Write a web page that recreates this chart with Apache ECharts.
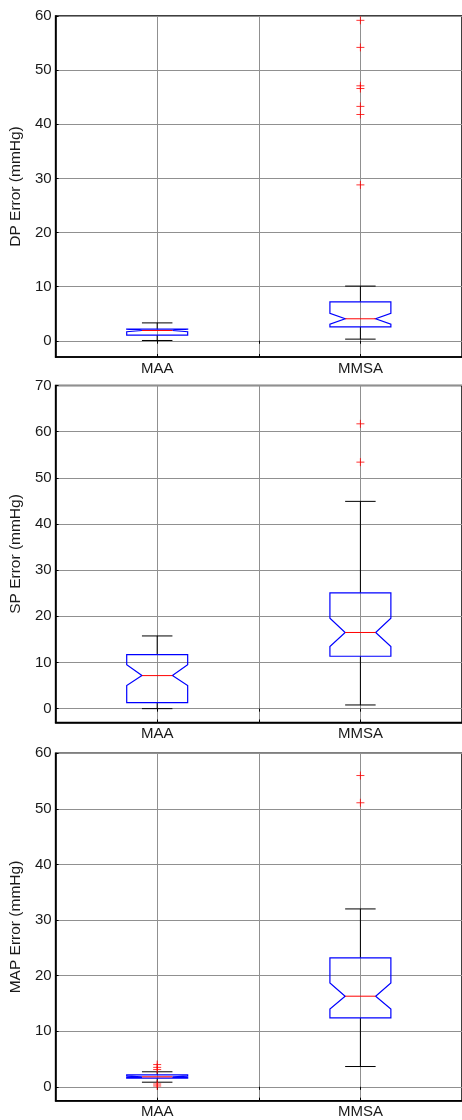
<!DOCTYPE html>
<html><head><meta charset="utf-8">
<script src="https://cdn.jsdelivr.net/npm/echarts@6/dist/echarts.min.js"></script>
<style>html,body{margin:0;padding:0;background:#fff}#c{width:462px;height:1120px}</style>
</head><body><div id="c"></div>
<script>
// ---------- data ----------
const categories = ['MAA', 'MMSA'];
const categoryPositions = [1, 2];
// each row: [lower whisker, Q1, notch low, median, notch high, Q3, upper whisker]
const dpStats  = [[0.05, 1.05, 1.66, 1.9, 2.14, 2.16, 3.3], [0.3, 2.58, 3.06, 4.06, 5.06, 7.2, 10.1]];
const spStats  = [[0.0, 1.3, 4.99, 7.16, 9.5, 11.7, 15.75], [0.8, 11.35, 13.45, 16.5, 19.6, 25.08, 44.9]];
const mapStats = [[0.83, 1.55, 1.67, 1.8, 1.93, 2.15, 2.7], [3.65, 12.4, 14.0, 16.3, 18.7, 23.2, 32.0]];
const dpOutliersMAA  = [];
const dpOutliersMMSA = [59.2, 54.2, 47.1, 46.6, 43.3, 41.8, 28.8];
const spOutliersMAA  = [];
const spOutliersMMSA = [61.7, 53.4];
const mapOutliersMAA  = [4.0, 3.5, 3.1, 0.5, 0.15];
const mapOutliersMMSA = [56.0, 51.1];
const dpTicks  = [0, 10, 20, 30, 40, 50, 60];
const spTicks  = [0, 10, 20, 30, 40, 50, 60, 70];
const mapTicks = [0, 10, 20, 30, 40, 50, 60];
const xTickValues = [1, 1.5, 2];
const yTitles = ['DP Error (mmHg)', 'SP Error (mmHg)', 'MAP Error (mmHg)'];

// ---------- layout ----------
const panels = [
  { top: 16,    height: 341,   min: -3,   max: 60, ticks: dpTicks,  stats: dpStats,  out: [dpOutliersMAA, dpOutliersMMSA] },
  { top: 385.5, height: 337,   min: -3,   max: 70, ticks: spTicks,  stats: spStats,  out: [spOutliersMAA, spOutliersMMSA] },
  { top: 753.3, height: 347.4, min: -2.5, max: 60, ticks: mapTicks, stats: mapStats, out: [mapOutliersMAA, mapOutliersMMSA] }
];
const FONT = "'Liberation Sans', Arial, sans-serif";
const TXT = '#1a1a1a';
const GRIDC = '#909090';

function renderBox(params, api) {
  const x = api.value(0);
  const wLo = api.value(1), q1 = api.value(2), nLo = api.value(3), med = api.value(4),
        nHi = api.value(5), q3 = api.value(6), wHi = api.value(7);
  const hw = 0.15, qw = 0.075;
  const P = (dx, y) => api.coord([x + dx, y]);
  const line = (a, b, color) => ({ type: 'line', shape: { x1: a[0], y1: a[1], x2: b[0], y2: b[1] },
    style: { stroke: color, lineWidth: 1 } });
  const pts = [P(-hw, q1), P(hw, q1), P(hw, nLo), P(qw, med), P(hw, nHi), P(hw, q3),
               P(-hw, q3), P(-hw, nHi), P(-qw, med), P(-hw, nLo)];
  return { type: 'group', children: [
    line(P(0, q3), P(0, wHi), '#000'),
    line(P(0, q1), P(0, wLo), '#000'),
    line(P(-qw, wHi), P(qw, wHi), '#000'),
    line(P(-qw, wLo), P(qw, wLo), '#000'),
    { type: 'polygon', shape: { points: pts }, style: { fill: 'none', stroke: '#0000ff', lineWidth: 1.2 } },
    line(P(-qw, med), P(qw, med), '#ff0000')
  ]};
}

const option = { animation: false, backgroundColor: '#fff', grid: [], xAxis: [], yAxis: [], series: [] };
panels.forEach((p, i) => {
  option.grid.push({ left: 54, width: 411, top: p.top, height: p.height, show: true,
    borderColor: '#000', borderWidth: 1.5, backgroundColor: 'transparent' });
  option.xAxis.push({
    type: 'value', gridIndex: i, min: 0.5, max: 2.5, position: 'bottom',
    axisLine: { show: true, onZero: false, lineStyle: { color: '#000', width: 1.5 } },
    axisTick: { show: true, inside: true, length: 3, customValues: xTickValues, lineStyle: { color: '#000' } },
    axisLabel: { show: true, customValues: categoryPositions, margin: 4,
      formatter: v => categories[categoryPositions.indexOf(v)] || '',
      fontFamily: FONT, fontSize: 15, color: TXT },
    splitLine: { show: true, lineStyle: { color: GRIDC, width: 1 } }
  });
  option.xAxis.push({
    type: 'value', gridIndex: i, min: 0.5, max: 2.5, position: 'top',
    axisLine: { show: false },
    axisTick: { show: true, inside: true, length: 3, customValues: xTickValues, lineStyle: { color: '#000' } },
    axisLabel: { show: false }, splitLine: { show: false }
  });
  option.yAxis.push({
    type: 'value', gridIndex: i, min: p.min, max: p.max,
    name: yTitles[i], nameLocation: 'middle', nameGap: 23, nameRotate: 90,
    nameTextStyle: { fontFamily: FONT, fontSize: 15.5, color: TXT },
    axisLine: { show: true, onZero: false, lineStyle: { color: '#000', width: 1.5 } },
    axisTick: { show: true, inside: true, length: 3, customValues: p.ticks, lineStyle: { color: '#000' } },
    axisLabel: { show: true, customValues: p.ticks, margin: 4, fontFamily: FONT, fontSize: 15, color: TXT },
    splitLine: { show: true, lineStyle: { color: GRIDC, width: 1 } }
  });
  option.series.push({
    type: 'custom', xAxisIndex: i * 2, yAxisIndex: i, renderItem: renderBox, z: 3,
    encode: { x: 0, y: [1, 2, 3, 4, 5, 6, 7] },
    data: p.stats.map((s, k) => [categoryPositions[k]].concat(s))
  });
  const outData = [];
  p.out.forEach((arr, k) => arr.forEach(v => outData.push([categoryPositions[k], v])));
  option.series.push({
    type: 'scatter', xAxisIndex: i * 2, yAxisIndex: i, z: 4,
    symbol: 'path://M0,5L10,5M5,0L5,10', symbolSize: 8,
    itemStyle: { color: 'transparent', borderColor: '#ff0000', borderWidth: 1 },
    data: outData
  });
});
const chart = echarts.init(document.getElementById('c'), null, { renderer: 'canvas' });
chart.setOption(option);
</script></body></html>
